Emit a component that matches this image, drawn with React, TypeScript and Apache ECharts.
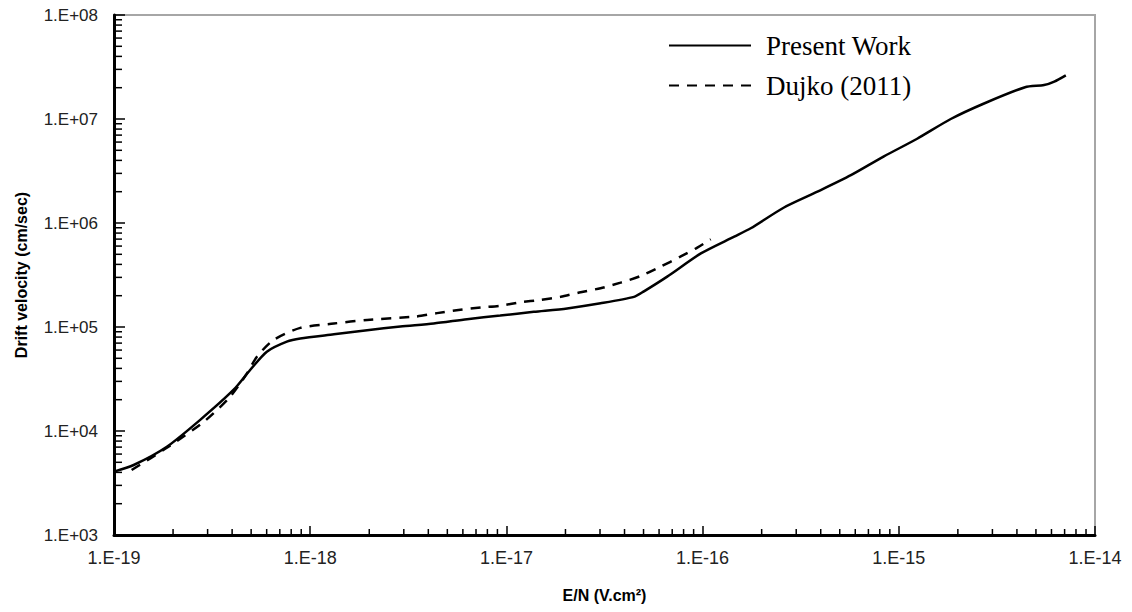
import React, { useEffect, useRef } from "react";
import * as echarts from "echarts";

// E/N values (V.cm^2) and drift velocities (cm/sec)
const PRESENT_E = [
  1.0e-19, 1.26e-19, 1.86e-19, 2.75e-19, 4.06e-19, 4.94e-19, 6.01e-19, 7.6e-19, 8.9e-19, 1.32e-18,
  1.95e-18, 2.88e-18, 4.26e-18, 6.3e-18, 9.3e-18, 1.38e-17, 2.04e-17, 3.02e-17, 4.47e-17, 5.0e-17,
  6.6e-17, 9.8e-17, 1.45e-16, 1.76e-16, 2.6e-16, 3.85e-16, 5.7e-16, 8.4e-16, 1.24e-15, 1.84e-15,
  2.72e-15, 4.4e-15, 5.5e-15, 6.2e-15, 7.1e-15,
];
const PRESENT_V = [
  4.07e3, 4.71e3, 7.06e3, 1.28e4, 2.48e4, 3.86e4, 5.79e4, 7.23e4, 7.76e4, 8.5e4,
  9.3e4, 1.01e5, 1.08e5, 1.19e5, 1.29e5, 1.4e5, 1.51e5, 1.69e5, 1.95e5, 2.19e5,
  3.05e5, 5.1e5, 7.4e5, 8.9e5, 1.41e6, 2.0e6, 2.88e6, 4.37e6, 6.46e6, 1.0e7,
  1.41e7, 2.02e7, 2.12e7, 2.29e7, 2.63e7,
];
const DUJKO_E = [
  1.23e-19, 1.86e-19, 2.92e-19, 3.91e-19, 4.75e-19, 5.35e-19, 6.5e-19, 8.9e-19, 1.32e-18, 1.95e-18,
  3.44e-18, 4.43e-18, 5.7e-18, 7.4e-18, 9.3e-18, 1.18e-17, 1.49e-17, 1.89e-17, 2.39e-17, 3.02e-17,
  3.82e-17, 4.83e-17, 6.1e-17, 7.7e-17, 9.4e-17, 1.1e-16,
];
const DUJKO_V = [
  4.22e3, 6.9e3, 1.26e4, 2.14e4, 3.55e4, 5.18e4, 7.5e4, 9.8e4, 1.08e5, 1.17e5,
  1.26e5, 1.36e5, 1.46e5, 1.54e5, 1.6e5, 1.73e5, 1.82e5, 1.95e5, 2.16e5, 2.36e5,
  2.67e5, 3.09e5, 3.8e5, 4.74e5, 5.8e5, 6.97e5,
];

const SERIES_NAMES = ["Present Work", "Dujko (2011)"];
const X_MIN = 1e-19;
const X_MAX = 1e-14;
const Y_MIN = 1e3;
const Y_MAX = 1e8;
const MINOR_STEPS = [2, 3, 4, 5, 6, 7, 8, 9];

function minorTicks(min: number, max: number): number[] {
  const out: number[] = [];
  const e0 = Math.round(Math.log10(min));
  const e1 = Math.round(Math.log10(max));
  for (let e = e0; e < e1; e++) {
    for (const k of MINOR_STEPS) out.push(Number((k * Math.pow(10, e)).toPrecision(6)));
  }
  return out;
}

function sciLabel(v: number): string {
  const e = Math.round(Math.log10(v));
  const s = e < 0 ? "-" : "+";
  const a = Math.abs(e);
  return "1.E" + s + (a < 10 ? "0" + a : String(a));
}

export default function App() {
  const ref = useRef<HTMLDivElement>(null);

  useEffect(() => {
    document.body.style.margin = "0";
    if (!ref.current) return;
    const chart = echarts.init(ref.current, null, { renderer: "svg" });

    const option: any = {
      animation: false,
      backgroundColor: "#ffffff",
      grid: {
        left: 114,
        right: 37,
        top: 15,
        bottom: 77,
        show: true,
        borderColor: "#a6a6a6",
        borderWidth: 2,
        backgroundColor: "rgba(0,0,0,0)",
        z: 0,
      },
      legend: {
        data: SERIES_NAMES,
        orient: "vertical",
        left: 663,
        top: 27,
        itemWidth: 82,
        itemHeight: 14,
        itemGap: 13,
        selectedMode: false,
        itemStyle: { opacity: 0 },
        textStyle: {
          fontFamily: "'Liberation Serif', 'Times New Roman', serif",
          fontSize: 27,
          color: "#000",
          padding: [0, 0, 0, 10],
        },
      },
      xAxis: {
        type: "log",
        logBase: 10,
        min: X_MIN,
        max: X_MAX,
        name: "E/N (V.cm²)",
        nameLocation: "middle",
        nameGap: 52,
        nameTextStyle: {
          fontFamily: "'Liberation Sans Narrow', 'Liberation Sans', Arial, sans-serif",
          fontWeight: "bold",
          fontSize: 16,
          color: "#000",
        },
        z: 5,
        axisLine: { show: true, onZero: false, lineStyle: { color: "#000", width: 3 } },
        axisTick: { show: true, inside: true, length: 9, lineStyle: { color: "#000", width: 1.5 } },
        axisLabel: {
          formatter: (v: number) => sciLabel(v),
          margin: 14,
          fontFamily: "'Liberation Sans Narrow', 'Liberation Sans', Arial, sans-serif",
          fontSize: 18,
          color: "#222",
        },
        splitLine: { show: false },
      },
      yAxis: {
        type: "log",
        logBase: 10,
        min: Y_MIN,
        max: Y_MAX,
        name: "Drift velocity (cm/sec)",
        nameLocation: "middle",
        nameRotate: 90,
        nameGap: 85,
        nameTextStyle: {
          fontFamily: "'Liberation Sans', Arial, sans-serif",
          fontWeight: "bold",
          fontSize: 16,
          color: "#000",
        },
        z: 5,
        axisLine: { show: true, onZero: false, lineStyle: { color: "#000", width: 3 } },
        axisTick: { show: true, inside: true, length: 11, lineStyle: { color: "#000", width: 1.5 } },
        axisLabel: {
          formatter: (v: number) => sciLabel(v),
          margin: 16,
          fontFamily: "'Liberation Sans', Arial, sans-serif",
          fontSize: 17,
          color: "#222",
        },
        splitLine: { show: false },
      },
      series: [
        {
          name: SERIES_NAMES[0],
          type: "line",
          data: PRESENT_E.map((e, i) => [e, PRESENT_V[i]]),
          symbol: "none",
          smooth: 0.25,
          lineStyle: { color: "#000", width: 2.5, type: "solid" },
          itemStyle: { color: "#000" },
          z: 3,
        },
        {
          name: SERIES_NAMES[1],
          type: "line",
          data: DUJKO_E.map((e, i) => [e, DUJKO_V[i]]),
          symbol: "none",
          smooth: 0.25,
          lineStyle: { color: "#000", width: 2.5, type: [10, 8] },
          itemStyle: { color: "#000" },
          z: 3,
        },
      ],
    };

    chart.setOption(option);

    // minor ticks at 2..9 of every decade, placed through the axes' own scales
    const graphics: any[] = [];
    for (const v of minorTicks(X_MIN, X_MAX)) {
      const p = chart.convertToPixel({ gridIndex: 0 } as any, [v, Y_MIN]) as number[];
      if (!p) continue;
      graphics.push({
        type: "line",
        silent: true,
        shape: { x1: p[0], y1: p[1], x2: p[0], y2: p[1] - 6 },
        style: { stroke: "#000", lineWidth: 1.5 },
      });
    }
    for (const v of minorTicks(Y_MIN, Y_MAX)) {
      const p = chart.convertToPixel({ gridIndex: 0 } as any, [X_MIN, v]) as number[];
      if (!p) continue;
      graphics.push({
        type: "line",
        silent: true,
        shape: { x1: p[0], y1: p[1], x2: p[0] + 8, y2: p[1] },
        style: { stroke: "#000", lineWidth: 1.5 },
      });
    }
    chart.setOption({ graphic: graphics });

    return () => chart.dispose();
  }, []);

  return <div ref={ref} style={{ width: 1132, height: 612 }} />;
}
